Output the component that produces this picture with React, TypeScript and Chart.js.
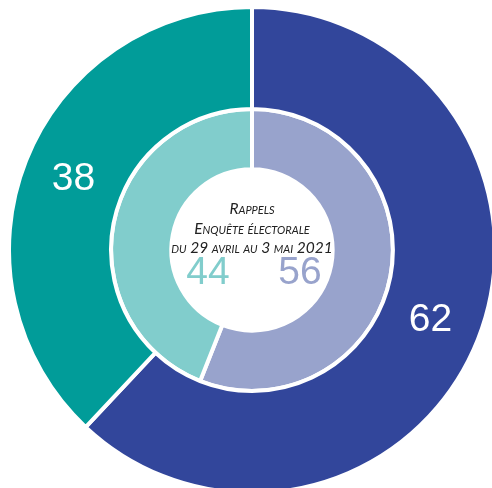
import React, { useEffect, useRef } from "react";
import { Chart, registerables } from "chart.js";

Chart.register(...registerables);

const outerLabels = ["Oui", "Non"];
const outerValues = [62, 38];
const innerLabels = ["Oui", "Non"];
const innerValues = [56, 44];
const centerLines = ["Rappels", "Enquête électorale", "du 29 avril au 3 mai 2021"];

const outerColors = ["#32469b", "#019c99"];
const innerColors = ["#98a3cc", "#81cdcc"];

const labelPlugin = {
  id: "labelPlugin",
  afterDatasetsDraw(chart: any) {
    const ctx = chart.ctx;
    const meta0 = chart.getDatasetMeta(0);
    const meta1 = chart.getDatasetMeta(1);
    ctx.save();
    ctx.textAlign = "center";
    ctx.textBaseline = "middle";
    ctx.font = "39px 'Liberation Sans', Arial, sans-serif";
    ctx.fillStyle = "#ffffff";
    meta0.data.forEach((arc: any, i: number) => {
      const p = arc.getCenterPoint();
      ctx.fillText(String(outerValues[i]), p.x, p.y);
    });
    const first = meta1.data[0];
    const cx = first.x;
    const cy = first.y;
    ctx.fillStyle = innerColors[1];
    ctx.fillText(String(innerValues[1]), cx - 44, cy + 23);
    ctx.fillStyle = innerColors[0];
    ctx.fillText(String(innerValues[0]), cx + 48, cy + 23);
    ctx.fillStyle = "#222222";
    ctx.font = "italic small-caps 15.5px Lato, 'Open Sans', sans-serif";
    try { (ctx as any).fontVariantCaps = "small-caps"; } catch (e) {}
    const ys = [cy - 41, cy - 21, cy - 2];
    centerLines.forEach((t, i) => ctx.fillText(t, cx, ys[i]));
    ctx.restore();
  },
};

export default function App() {
  const ref = useRef<HTMLCanvasElement | null>(null);
  useEffect(() => {
    if (!ref.current) return;
    const chart = new Chart(ref.current, {
      type: "doughnut",
      data: {
        labels: outerLabels,
        datasets: [
          {
            data: outerValues,
            backgroundColor: outerColors,
            borderColor: "#ffffff",
            borderWidth: 4,
            weight: 102.5,
          },
          {
            data: innerValues,
            backgroundColor: innerColors,
            borderColor: "#ffffff",
            borderWidth: 4,
            weight: 60.5,
          },
        ],
      },
      options: {
        responsive: false,
        animation: false,
        radius: 243,
        cutout: 80,
        hoverOffset: 0,
        layout: { padding: 0 },
        plugins: {
          legend: { display: false },
          tooltip: { enabled: false },
        },
      } as any,
      plugins: [labelPlugin],
    });
    return () => chart.destroy();
  }, []);
  return (
    <div style={{ position: "fixed", left: 0, top: 0, width: 492, height: 488, overflow: "hidden", background: "#fff" }}>
      <canvas ref={ref} width={486} height={486} style={{ position: "absolute", left: 9, top: 7, width: 486, height: 486 }} />
    </div>
  );
}
